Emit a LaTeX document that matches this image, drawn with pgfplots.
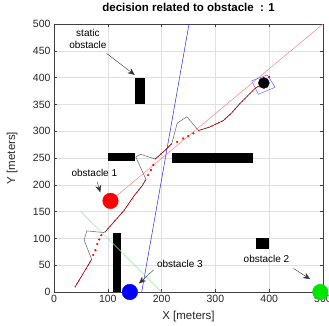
\documentclass[border=0pt]{standalone}
\usepackage{fontspec}
\setmainfont{Liberation Sans}
\usepackage{pgfplots}
\pgfplotsset{compat=1.18}
\usetikzlibrary{arrows.meta}
\definecolor{pinkline}{RGB}{255,130,130}
\definecolor{darkpath}{RGB}{90,10,10}
\definecolor{detour}{RGB}{110,110,110}
\definecolor{obsgreen}{RGB}{0,230,0}
\definecolor{lgreen}{RGB}{140,235,140}
\begin{document}
\begin{tikzpicture}
\useasboundingbox (-54pt,-33pt) rectangle (275pt,292pt);
\begin{axis}[
  at={(0,0)}, anchor=south west, scale only axis,
  width=269pt, height=268pt,
  xmin=0, xmax=500, ymin=0, ymax=500,
  xtick={0,100,...,500}, ytick={0,50,...,500},
  grid=major, grid style={black!12, line width=0.4pt},
  tick align=inside, major tick length=3pt,
  axis line style={black!75, line width=0.4pt},
  every tick/.style={black!75},
  font=\fontsize{11.5}{13}\selectfont,
  tick label style={font=\fontsize{10.5}{12}\selectfont, text=black!85},
  /pgf/number format/assume math mode=true,
  title={\bfseries decision related to obstacle\ \ : 1},
  title style={at={(axis description cs:0.5,1.041)}, anchor=center, font=\fontsize{11.5}{13}\selectfont},
  xlabel={X [meters]}, ylabel={Y [meters]},
  xlabel style={at={(axis description cs:0.5,-0.092)}, anchor=center, text=black!85},
  ylabel style={at={(axis description cs:-0.156,0.5)}, anchor=center, text=black!85},
]
% static obstacles
\addplot[fill=black, draw=none] coordinates {(150,350) (170,350) (170,400) (150,400)} -- cycle;
\addplot[fill=black, draw=none] coordinates {(100,245) (150,245) (150,260) (100,260)} -- cycle;
\addplot[fill=black, draw=none] coordinates {(220,240) (370,240) (370,260) (220,260)} -- cycle;
\addplot[fill=black, draw=none] coordinates {(110,0) (125,0) (125,110) (110,110)} -- cycle;
\addplot[fill=black, draw=none] coordinates {(375,80) (400,80) (400,100) (375,100)} -- cycle;
% reference lines
\addplot[pinkline, line width=0.5pt] coordinates {(105,170) (500,500)};
\addplot[blue, line width=0.4pt] coordinates {(163,0) (251,500)};
\addplot[lgreen, line width=0.5pt] coordinates {(50,150) (200,0)};
% blue square
\addplot[blue!60, line width=0.5pt] coordinates {(367.5,394) (396.5,405) (411,382) (380,369) (367.5,394)};
% detours
\addplot[detour, line width=0.55pt] coordinates {(70,61) (56,97) (61,114) (92,111) (95,112)};
\addplot[detour, line width=0.55pt] coordinates {(171,210) (152,252) (161,257) (188,248)};
\addplot[detour, line width=0.55pt] coordinates {(219,277) (229,315) (247,327) (268,302)};
% path segments
\pgfplotsset{pathstyle/.style={darkpath, line width=0.6pt, postaction={draw=red, line width=1.1pt, dash pattern=on 0.8pt off 2.8pt}}}
\addplot[pathstyle] coordinates {(39,9) (70,61)};
\addplot[pathstyle] coordinates {(95,112) (130,152) (150,181) (163,197) (171,210)};
\addplot[pathstyle] coordinates {(188,248) (205,263) (219,277)};
\addplot[pathstyle] coordinates {(268,301) (290,308) (315,320) (330,334) (346,352) (361,367) (374,380) (390,390)};
% sparse dots
\addplot[only marks, mark=*, mark size=0.9pt, red, mark options={draw=red}] coordinates {
(73,69) (77,78) (80.5,89.5) (84,98) (88,106)
(175,218) (180,227.6) (184.6,237)
(229,280) (240,286.5) (249.6,291) (259,296)
(400,401)};
% obstacles
\addplot[only marks, mark=*, mark size=7.8pt, red, mark options={draw=red}] coordinates {(105,170)};
\addplot[only marks, mark=*, mark size=7.8pt, obsgreen, mark options={draw=obsgreen}] coordinates {(495,0)};
\addplot[only marks, mark=*, mark size=7.8pt, blue, mark options={draw=blue}] coordinates {(141,0)};
\addplot[only marks, mark=*, mark size=5.5pt, black] coordinates {(390,390)};
% annotations
\node[font=\fontsize{10}{11.5}\selectfont, align=center] at (axis cs:63,472) {static\\obstacle};
\draw[black!80, line width=0.4pt, -{Stealth[length=7pt,width=6pt]}] (axis cs:98,445) -- (axis cs:150,405);
\node[font=\fontsize{10}{12}\selectfont] at (axis cs:75,223) {obstacle 1};
\draw[black!80, line width=0.4pt, -{Stealth[length=7pt,width=6pt]}] (axis cs:80,206) -- (axis cs:86,186);
\node[font=\fontsize{10}{12}\selectfont] at (axis cs:234,53) {obstacle 3};
\draw[black!80, line width=0.4pt, -{Stealth[length=7pt,width=6pt]}] (axis cs:185,41) -- (axis cs:158,16);
\node[font=\fontsize{10}{12}\selectfont] at (axis cs:395,62) {obstacle 2};
\draw[black!80, line width=0.4pt, -{Stealth[length=7pt,width=6pt]}] (axis cs:445,44) -- (axis cs:476,24);
\end{axis}
\end{tikzpicture}
\end{document}
